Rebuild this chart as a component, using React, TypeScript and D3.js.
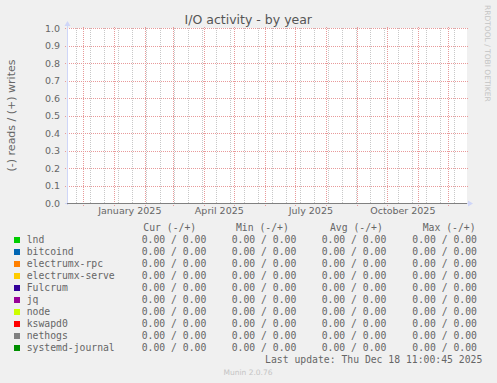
import React from "react";
import * as d3 from "d3";

// ---- data ----
const title = "I/O activity - by year";
const yAxisLabel = "(-) reads / (+) writes";
const yTicks = [0.0, 0.1, 0.2, 0.3, 0.4, 0.5, 0.6, 0.7, 0.8, 0.9, 1.0];
const rangeStart = new Date(Date.UTC(2024, 10, 14, 16, 0, 0));
const rangeEnd = new Date(Date.UTC(2025, 11, 19, 16, 0, 0));
const minorGridStart = new Date(Date.UTC(2024, 10, 24));
const xLabelMonths = [
  new Date(Date.UTC(2025, 0, 1)),
  new Date(Date.UTC(2025, 3, 1)),
  new Date(Date.UTC(2025, 6, 1)),
  new Date(Date.UTC(2025, 9, 1)),
];
const seriesNames = [
  "lnd",
  "bitcoind",
  "electrumx-rpc",
  "electrumx-serve",
  "Fulcrum",
  "jq",
  "node",
  "kswapd0",
  "nethogs",
  "systemd-journal",
];
const seriesColors = [
  "#00cc00",
  "#0066b3",
  "#ff8000",
  "#ffcc00",
  "#330099",
  "#990099",
  "#ccff00",
  "#ff0000",
  "#808080",
  "#008f00",
];
const curValues = ["0.00 / 0.00", "0.00 / 0.00", "0.00 / 0.00", "0.00 / 0.00", "0.00 / 0.00", "0.00 / 0.00", "0.00 / 0.00", "0.00 / 0.00", "0.00 / 0.00", "0.00 / 0.00"];
const minValues = ["0.00 / 0.00", "0.00 / 0.00", "0.00 / 0.00", "0.00 / 0.00", "0.00 / 0.00", "0.00 / 0.00", "0.00 / 0.00", "0.00 / 0.00", "0.00 / 0.00", "0.00 / 0.00"];
const avgValues = ["0.00 / 0.00", "0.00 / 0.00", "0.00 / 0.00", "0.00 / 0.00", "0.00 / 0.00", "0.00 / 0.00", "0.00 / 0.00", "0.00 / 0.00", "0.00 / 0.00", "0.00 / 0.00"];
const maxValues = ["0.00 / 0.00", "0.00 / 0.00", "0.00 / 0.00", "0.00 / 0.00", "0.00 / 0.00", "0.00 / 0.00", "0.00 / 0.00", "0.00 / 0.00", "0.00 / 0.00", "0.00 / 0.00"];
// observed points of each series (time, value) - all zero over the year
const seriesPoints: [Date, number][] = [
  [rangeStart, 0],
  [new Date(Date.UTC(2025, 5, 1)), 0],
  [rangeEnd, 0],
];
const columnHeaders = ["Cur (-/+)", "Min (-/+)", "Avg (-/+)", "Max (-/+)"];
const lastUpdate = "Last update: Thu Dec 18 11:00:45 2025";
const watermark = "RRDTOOL / TOBI OETIKER";
const footer = "Munin 2.0.76";

// ---- layout ----
const W = 497;
const H = 383;
const X0 = 67;
const X1 = 467;
const Y0 = 203;
const Y1 = 28;
const FONT = "'DejaVu Sans', sans-serif";
const MONO = "'DejaVu Sans Mono', monospace";
const FONT_COLOR = "#666666";
const AXIS_COLOR = "#cfd6f8";
const MGRID = "#e89a9a";
const GRID = "#c8c8c8";

export default function App() {
  const x = d3.scaleUtc().domain([rangeStart, rangeEnd]).range([X0, X1]);
  const y = d3.scaleLinear().domain([0, 1]).range([Y0, Y1]);
  const px = (v: number) => Math.round(v) + 0.5;

  const months = d3.utcMonth.range(d3.utcMonth.ceil(rangeStart), rangeEnd);
  const minor = d3.utcDay.range(minorGridStart, rangeEnd, 14);

  const line = d3
    .line<[Date, number]>()
    .x((d) => x(d[0]))
    .y((d) => px(y(d[1])));

  // draw order: nethogs ends up on top (as in the reference)
  const drawOrder = seriesNames.map((_, i) => i).filter((i) => i !== 8).concat([8]);

  const colX = [141.7, 231.7, 321.7, 412.3];
  const headerX = [143.3, 236, 330, 422.7];
  const rowY0 = 243;
  const rowStep = 12;

  return (
    <svg
      width={W}
      height={H}
      style={{ position: "absolute", left: 0, top: 0, display: "block" }}
      shapeRendering="crispEdges"
    >
      <rect x={0} y={0} width={W} height={H} fill="#f0f0f0" />
      <rect x={X0} y={Y1} width={X1 - X0} height={Y0 - Y1} fill="#ffffff" />

      {/* minor vertical grid */}
      {minor.map((d, i) => (
        <line
          key={"mn" + i}
          x1={px(x(d))}
          x2={px(x(d))}
          y1={Y0}
          y2={Y1}
          stroke={GRID}
          strokeDasharray="1,1"
        />
      ))}
      {/* major vertical grid (months) */}
      {months.map((d, i) => (
        <line
          key={"mj" + i}
          x1={px(x(d))}
          x2={px(x(d))}
          y1={Y0 + 3}
          y2={Y1 - 2}
          stroke={MGRID}
          strokeDasharray="1,1"
        />
      ))}
      {/* horizontal grid */}
      {yTicks.map((t, i) => (
        <line
          key={"hy" + i}
          x1={X0 - 2}
          x2={X1 + 2}
          y1={px(y(t))}
          y2={px(y(t))}
          stroke={MGRID}
          strokeDasharray="1,1"
        />
      ))}

      {/* axes */}
      <line x1={X0 + 0.5} x2={X0 + 0.5} y1={Y0 + 2} y2={Y1 - 4} stroke={AXIS_COLOR} />
      <line x1={X0 - 2} x2={X1 + 3} y1={Y0 + 0.5} y2={Y0 + 0.5} stroke={AXIS_COLOR} />
      <path
        d={`M${X0 - 2.5},${Y1 - 2} L${X0 + 0.5},${Y1 - 7} L${X0 + 3.5},${Y1 - 2} Z`}
        fill={AXIS_COLOR}
        shapeRendering="auto"
      />
      <path
        d={`M${X1 + 1},${Y0 - 2.5} L${X1 + 6},${Y0 + 0.5} L${X1 + 1},${Y0 + 3.5} Z`}
        fill={AXIS_COLOR}
        shapeRendering="auto"
      />

      {/* series lines */}
      {drawOrder.map((i) => (
        <path
          key={"s" + i}
          d={line(seriesPoints) || ""}
          fill="none"
          stroke={seriesColors[i]}
          strokeWidth={1}
        />
      ))}

      {/* y tick labels */}
      {yTicks.map((t, i) => (
        <text
          key={"yl" + i}
          x={60}
          y={y(t) + 3.5}
          textAnchor="end"
          fontFamily={FONT}
          fontSize={9.5}
          fill={FONT_COLOR}
        >
          {t.toFixed(1)}
        </text>
      ))}

      {/* x labels */}
      {xLabelMonths.map((d, i) => {
        const next = d3.utcMonth.offset(d, 1);
        const cx = (x(d) + x(next)) / 2;
        return (
          <text
            key={"xl" + i}
            x={cx}
            y={214}
            textAnchor="middle"
            fontFamily={FONT}
            fontSize={9.5}
            fill={FONT_COLOR}
          >
            {d3.utcFormat("%B %Y")(d)}
          </text>
        );
      })}

      {/* title */}
      <text
        x={248.3}
        y={24}
        textAnchor="middle"
        fontFamily={FONT}
        fontSize={12.5}
        fill="#555555"
      >
        {title}
      </text>

      {/* y-axis label */}
      <text
        transform={`translate(14.5, ${(Y0 + Y1) / 2}) rotate(-90)`}
        textAnchor="middle"
        fontFamily={FONT}
        fontSize={11}
        fill={FONT_COLOR}
      >
        {yAxisLabel}
      </text>

      {/* watermark */}
      <text
        transform={`translate(484.5, 5) rotate(90)`}
        textAnchor="start"
        fontFamily={FONT}
        fontSize={7.5}
        fill="#c4c4c4"
      >
        {watermark}
      </text>

      {/* legend header */}
      {columnHeaders.map((h, i) => (
        <text
          key={"h" + i}
          x={headerX[i]}
          y={231}
          fontFamily={MONO}
          fontSize={9.75}
          fill={FONT_COLOR}
          xmlSpace="preserve"
        >
          {h}
        </text>
      ))}

      {/* legend rows */}
      {seriesNames.map((name, i) => {
        const by = rowY0 + i * rowStep;
        return (
          <g key={"r" + i}>
            <rect x={14} y={by - 6.5} width={6} height={6} fill={seriesColors[i]} />
            <text x={26.7} y={by} fontFamily={MONO} fontSize={9.75} fill={FONT_COLOR}>
              {name}
            </text>
            {[curValues[i], minValues[i], avgValues[i], maxValues[i]].map((v, j) => (
              <text
                key={j}
                x={colX[j]}
                y={by}
                fontFamily={MONO}
                fontSize={9.75}
                fill={FONT_COLOR}
              >
                {v}
              </text>
            ))}
          </g>
        );
      })}

      <text
        x={482.3}
        y={363}
        textAnchor="end"
        fontFamily={MONO}
        fontSize={9.75}
        fill={FONT_COLOR}
      >
        {lastUpdate}
      </text>

      <text
        x={248}
        y={374.5}
        textAnchor="middle"
        fontFamily={FONT}
        fontSize={7.5}
        fill="#c4c4c4"
      >
        {footer}
      </text>
    </svg>
  );
}
